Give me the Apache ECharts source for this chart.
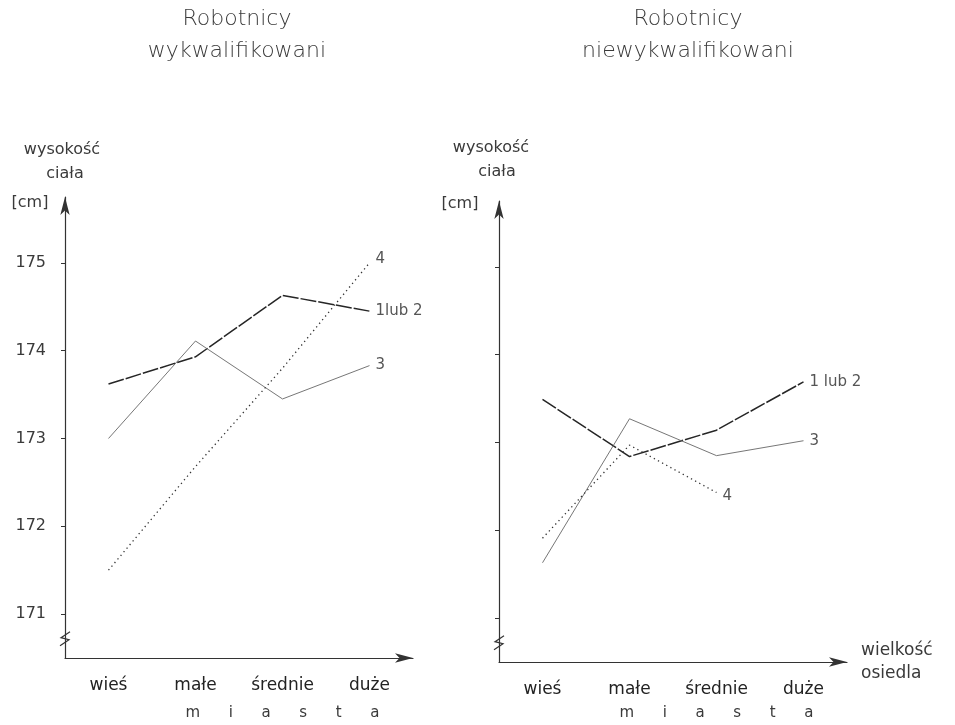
<!DOCTYPE html>
<html>
<head>
<meta charset="utf-8">
<script src="https://cdn.jsdelivr.net/npm/echarts@6/dist/echarts.min.js"></script>
<style>
  html, body { margin: 0; padding: 0; background: #fff; }
  #chart { width: 955px; height: 725px; }
</style>
</head>
<body>
<div id="chart"></div>
<script>
// categories and tick values
const categories = ['wieś', 'małe', 'średnie', 'duże'];
const yTicks = [171, 172, 173, 174, 175];

// Robotnicy wykwalifikowani
const leftLub12 = [173.62, 173.93, 174.63, 174.45];
const left3 = [173.0, 174.11, 173.45, 173.83];
const left4 = [171.5, 172.68, 173.8, 175.0];

// Robotnicy niewykwalifikowani
const rightLub12 = [173.49, 172.84, 173.14, 173.69];
const right3 = [171.63, 173.27, 172.85, 173.02];
const right4 = [171.91, 172.97, 172.43];

const FONT = 'DejaVu Sans';
const INK = '#3a3a3a';

const chart = echarts.init(document.getElementById('chart'), null, { renderer: 'canvas' });

function xAxisFor(gridIndex, withName) {
  return {
    type: 'category',
    gridIndex: gridIndex,
    data: categories,
    boundaryGap: true,
    name: withName ? 'wielkość\nosiedla' : '',
    nameLocation: 'end',
    nameGap: 14,
    nameTextStyle: { fontFamily: FONT, fontSize: 17, color: INK, align: 'left', lineHeight: 23 },
    axisLine: {
      lineStyle: { color: '#333', width: 1.2 },
      symbol: ['none', 'arrow'],
      symbolSize: [7, 18]
    },
    axisTick: { alignWithLabel: true, length: 4, lineStyle: { color: '#333' } },
    axisLabel: { fontFamily: FONT, fontSize: 17, color: '#222', margin: 19 },
    splitLine: { show: false }
  };
}

function yAxisFor(gridIndex, showLabels) {
  return {
    type: 'value',
    gridIndex: gridIndex,
    min: 170.5,
    max: 175.75,
    axisLine: {
      show: true,
      lineStyle: { color: '#333', width: 1.2 },
      symbol: ['none', 'arrow'],
      symbolSize: [7, 18]
    },
    axisTick: { show: true, customValues: yTicks, length: 4, lineStyle: { color: '#333' } },
    axisLabel: {
      show: showLabels,
      customValues: yTicks,
      fontFamily: FONT,
      fontSize: 16,
      color: INK,
      margin: 19
    },
    splitLine: { show: false }
  };
}

function lineSeries(name, label, data, idx, style, labelOffset) {
  return {
    name: name,
    type: 'line',
    xAxisIndex: idx,
    yAxisIndex: idx,
    data: data,
    symbol: 'none',
    smooth: false,
    lineStyle: style,
    endLabel: {
      show: true,
      formatter: label,
      fontFamily: FONT,
      fontSize: 15,
      color: '#555',
      distance: 6,
      offset: labelOffset || [0, 0]
    },
    z: 3
  };
}

const lubStyle = { color: '#262626', width: 1.5, type: [16, 2] };
const solidStyle = { color: '#666', width: 0.9 };
const dotStyle = { color: '#333', width: 1.3, type: [1.3, 3.4] };

chart.setOption({
  backgroundColor: '#fff',
  animation: false,
  grid: [
    { left: 65, top: 197, width: 348, height: 461 },
    { left: 499, top: 201, width: 348, height: 461 }
  ],
  xAxis: [xAxisFor(0, false), xAxisFor(1, true)],
  yAxis: [yAxisFor(0, true), yAxisFor(1, false)],
  series: [
    lineSeries('1 lub 2', '1lub 2', leftLub12, 0, lubStyle),
    lineSeries('3', '3', left3, 0, solidStyle),
    lineSeries('4', '4', left4, 0, dotStyle, [0, -4]),
    lineSeries('1 lub 2', '1 lub 2', rightLub12, 1, lubStyle),
    lineSeries('3', '3', right3, 1, solidStyle),
    lineSeries('4', '4', right4, 1, dotStyle, [0, 4])
  ]
});

// text annotations and axis break marks
function txt(x, y, text, size, align, weight) {
  return {
    type: 'text',
    x: x,
    y: y,
    style: {
      text: text,
      fontFamily: FONT,
      fontSize: size,
      fontWeight: weight || 'normal',
      fill: INK,
      align: align || 'center',
      verticalAlign: 'middle'
    }
  };
}

function breakMark(p) {
  const x = p[0], y = p[1];
  return {
    type: 'polyline',
    shape: { points: [[x - 5, y + 7], [x + 4, y + 1], [x - 4, y - 1], [x + 5, y - 7]] },
    style: { stroke: '#333', lineWidth: 1.2, fill: null },
    z: 10
  };
}

const leftMid = chart.convertToPixel({ gridIndex: 0 }, ['średnie', 170.72]);
const rightMid = chart.convertToPixel({ gridIndex: 1 }, ['średnie', 170.72]);
const leftBreak = chart.convertToPixel({ gridIndex: 0 }, [0, 170.72]);
const rightBreak = chart.convertToPixel({ gridIndex: 1 }, [0, 170.72]);
leftBreak[0] = 65;
rightBreak[0] = 499;

chart.setOption({
  graphic: [
    txt(237, 19, 'Robotnicy', 22, 'center', 200),
    txt(237, 51, 'wykwalifikowani', 22, 'center', 200),
    txt(688, 19, 'Robotnicy', 22, 'center', 200),
    txt(688, 51, 'niewykwalifikowani', 22, 'center', 200),
    txt(62, 150, 'wysokość', 16),
    txt(65, 174, 'ciała', 16),
    txt(30, 203, '[cm]', 16),
    txt(491, 148, 'wysokość', 16),
    txt(497, 172, 'ciała', 16),
    txt(460, 204, '[cm]', 16),
    txt(leftMid[0], 713, 'm      i      a      s      t      a', 15),
    txt(rightMid[0], 713, 'm      i      a      s      t      a', 15),
    breakMark(leftBreak),
    breakMark(rightBreak)
  ]
});
</script>
</body>
</html>
